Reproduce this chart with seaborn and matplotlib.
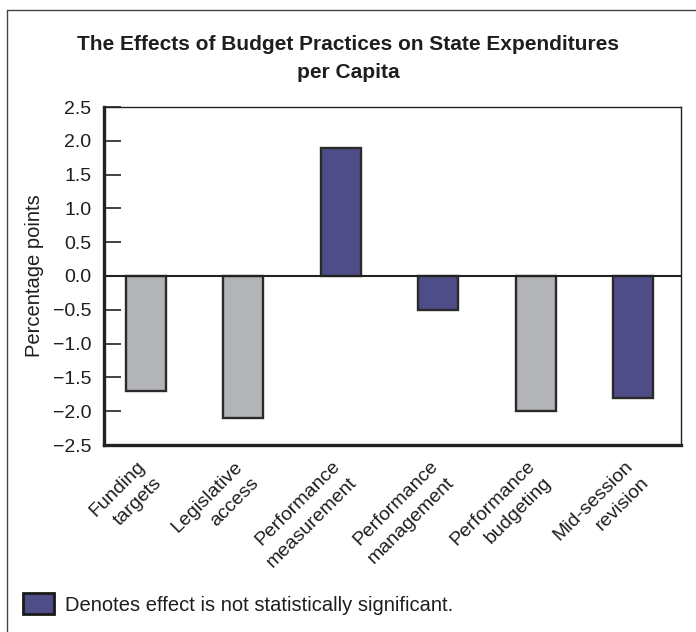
import matplotlib
matplotlib.use("Agg")
import matplotlib.pyplot as plt
from matplotlib.patches import Patch
from matplotlib.lines import Line2D
from matplotlib.transforms import ScaledTranslation
import seaborn as sns
import pandas as pd

categories = ["Funding\ntargets", "Legislative\naccess", "Performance\nmeasurement",
              "Performance\nmanagement", "Performance\nbudgeting", "Mid-session\nrevision"]
values = [-1.7, -2.1, 1.9, -0.5, -2.0, -1.8]
significance = ["Significant", "Significant", "Not significant",
                "Not significant", "Significant", "Not significant"]
y_ticks = [2.5, 2.0, 1.5, 1.0, 0.5, 0.0, -0.5, -1.0, -1.5, -2.0, -2.5]

gray = "#B3B4B8"
navy = "#4F4D87"
edge = "#2a2a2a"
txt = "#1e1e1e"

sns.set_theme(style="white")
plt.rcParams['font.family'] = ['Liberation Sans', 'DejaVu Sans']

df = pd.DataFrame({"cat": categories, "val": values, "sig": significance})

fig = plt.figure(figsize=(6.96, 6.32), dpi=100)
ax = fig.add_axes([104/696, 1-445/632, (681-104)/696, (445-107)/632])

sns.barplot(data=df, x="cat", y="val", hue="sig", order=categories,
            palette={"Significant": gray, "Not significant": navy},
            dodge=False, width=0.41, edgecolor=edge, linewidth=1.7,
            legend=False, ax=ax, saturation=1)

ax.axhline(0, color="#222222", lw=1.5, zorder=1)
ax.set_ylim(-2.5, 2.5)
ax.set_xlim(-0.43, 5.49)
ax.set_yticks(y_ticks)
ax.set_yticklabels([f"{t:.1f}".replace("-", "\u2212") for t in y_ticks])
ax.tick_params(axis="y", direction="in", length=12.5, width=1.2, color="#222222",
               left=True, pad=9, labelsize=14, labelcolor=txt)
ax.tick_params(axis="x", length=0, pad=5)
ax.set_xticks(range(len(categories)))
ax.set_xticklabels(categories, rotation=45, ha="right", rotation_mode="anchor",
                   va="top", multialignment="right", linespacing=1.45,
                   fontsize=14, color=txt)
offset = ScaledTranslation(-9/100, -6/100, fig.dpi_scale_trans)
for lbl in ax.get_xticklabels():
    lbl.set_transform(lbl.get_transform() + offset)
ax.set_xlabel("")
ax.set_ylabel("Percentage points", fontsize=14.5, color=txt)
ax.yaxis.set_label_coords(-(104-44)/(681-104), 0.5)

for side in ["left", "bottom"]:
    ax.spines[side].set_linewidth(2.4)
    ax.spines[side].set_color("#222222")
for side in ["top", "right"]:
    ax.spines[side].set_linewidth(1.0)
    ax.spines[side].set_color("#222222")
    ax.spines[side].set_visible(True)

fig.text(348/696, 1-50/632, "The Effects of Budget Practices on State Expenditures",
         ha="center", va="baseline", fontsize=15, fontweight="bold", color=txt)
fig.text(348/696, 1-78/632, "per Capita",
         ha="center", va="baseline", fontsize=15, fontweight="bold", color=txt)

# outer frame (top and left)
fig.add_artist(Line2D([7/696, 1.0], [1-10/632, 1-10/632], transform=fig.transFigure,
                      color="#444444", lw=1.0))
fig.add_artist(Line2D([7/696, 7/696], [0, 1-10/632], transform=fig.transFigure,
                      color="#444444", lw=1.0))

fig.legend(handles=[Patch(facecolor=navy, edgecolor="#1a1a1a", linewidth=2.0,
                          label="Denotes effect is not statistically significant.")],
           loc="center left", bbox_to_anchor=(23/696, 1-604/632), frameon=False,
           handlelength=1.55, handleheight=1.2, handletextpad=0.55,
           fontsize=14.5, labelcolor=txt, borderaxespad=0, borderpad=0)

fig.savefig("out.png", dpi=100)
